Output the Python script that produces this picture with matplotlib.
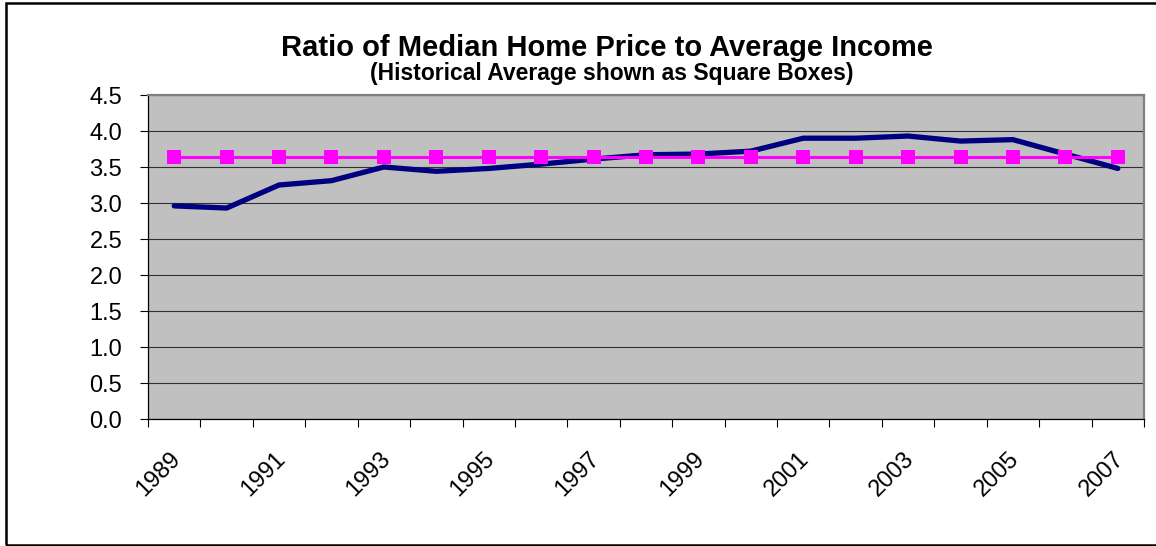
import matplotlib
matplotlib.use("Agg")
import matplotlib.pyplot as plt
from matplotlib.patches import Rectangle
from matplotlib.transforms import ScaledTranslation
import numpy as np

years = [str(y) for y in range(1989, 2008)]
ratio = [2.96, 2.93, 3.25, 3.31, 3.50, 3.44, 3.48, 3.54, 3.61, 3.67,
         3.68, 3.72, 3.90, 3.90, 3.93, 3.86, 3.88, 3.68, 3.48]
hist_avg = [3.635] * len(years)
y_ticks = [0.0, 0.5, 1.0, 1.5, 2.0, 2.5, 3.0, 3.5, 4.0, 4.5]
label_years = years[::2]

plt.rcParams['font.family'] = ['Liberation Sans', 'DejaVu Sans']

W, H = 1156, 546
fig = plt.figure(figsize=(W / 100, H / 100), dpi=100)
fig.patch.set_facecolor('white')

# outer chart border
fig.patches.append(Rectangle((5.5 / W, 1.5 / H), (W + 10) / W, (H - 4.0) / H,
                             transform=fig.transFigure, fill=False,
                             edgecolor='black', linewidth=1.8, zorder=0))

ax = fig.add_axes([148 / W, 1 - 419 / H, (1144 - 148) / W, (419 - 95) / H])
ax.set_facecolor('#C0C0C0')

x = np.arange(len(years))
ax.plot(x, ratio, color='#000080', linewidth=3.8, solid_capstyle='round',
        solid_joinstyle='miter', zorder=3)
ax.plot(x, hist_avg, color='#FF00FF', linewidth=2.2, marker='s',
        markersize=10.5, markeredgewidth=0, zorder=4)

ax.set_xlim(-0.5, len(years) - 0.5)
ax.set_ylim(0, 4.5)

ax.set_yticks(y_ticks)
ax.set_yticklabels([f"{v:.1f}" for v in y_ticks])
ax.yaxis.grid(True, color='#303030', linewidth=0.8)
ax.set_axisbelow(True)
ax.tick_params(axis='y', direction='out', length=5.5, width=0.8,
               color='black', labelsize=17, pad=13)

# major ticks at category boundaries
ax.set_xticks(np.arange(-0.5, len(years), 1.0))
ax.set_xticklabels([])
ax.tick_params(axis='x', which='major', direction='out', length=5.5,
               width=0.8, color='black')
# labels at every other category centre
ax.set_xticks(x[::2], minor=True)
ax.set_xticklabels(label_years, minor=True)
ax.tick_params(axis='x', which='minor', length=0, labelsize=17, pad=21)
off = ScaledTranslation(-5 / 100, 0, fig.dpi_scale_trans)
for lab in ax.get_xticklabels(minor=True):
    lab.set_rotation(45)
    lab.set_rotation_mode('anchor')
    lab.set_ha('right')
    lab.set_va('top')
    lab.set_transform(lab.get_transform() + off)

for s in ['left', 'bottom']:
    ax.spines[s].set_color('black')
    ax.spines[s].set_linewidth(0.9)
for s in ['top', 'right']:
    ax.spines[s].set_color('#808080')
    ax.spines[s].set_linewidth(1.6)

fig.text(607 / W, 1 - 56.5 / H, 'Ratio of Median Home Price to Average Income',
         ha='center', va='baseline', fontsize=21, fontweight='bold')
fig.text(612 / W, 1 - 80 / H, '(Historical Average shown as Square Boxes)',
         ha='center', va='baseline', fontsize=16.5, fontweight='bold')

fig.savefig('out.png', dpi=100)
